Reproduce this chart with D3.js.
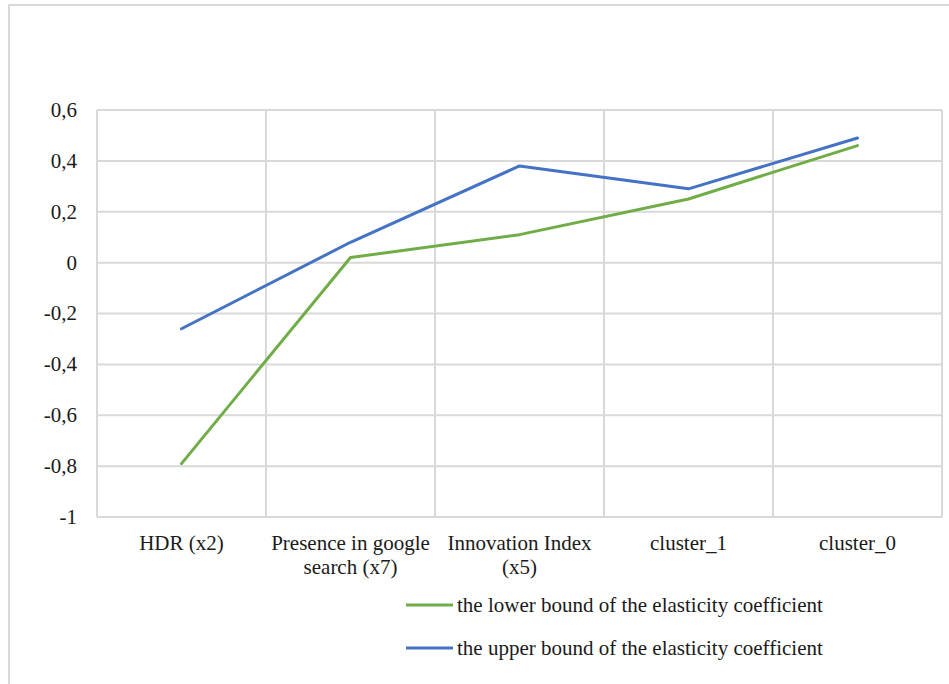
<!DOCTYPE html>
<html><head><meta charset="utf-8">
<script src="https://cdn.jsdelivr.net/npm/d3@7"></script>
<style>html,body{margin:0;padding:0;background:#fff;} svg{display:block;}</style>
</head><body>
<svg id="chart" width="949" height="684"></svg>
<script>
const categories = [["HDR (x2)"], ["Presence in google", "search (x7)"], ["Innovation Index", "(x5)"], ["cluster_1"], ["cluster_0"]];
const lowerBound = [-0.79, 0.02, 0.11, 0.25, 0.46];
const upperBound = [-0.26, 0.08, 0.38, 0.29, 0.49];
const yTicks = [-1, -0.8, -0.6, -0.4, -0.2, 0, 0.2, 0.4, 0.6];
const seriesNames = ["the lower bound of the elasticity coefficient", "the upper bound of the elasticity coefficient"];
const colors = ["#70ad47", "#4472c4"];

(function() {
const svg = d3.select("#chart");
const grid = "#d9d9d9";
const ff = '"Liberation Serif", "Times New Roman", serif';
const fs = "21px";
const tc = "#1a1a1a";

// outer frame
svg.append("rect").attr("x", 9).attr("y", 5).attr("width", 960).attr("height", 700)
  .attr("fill", "none").attr("stroke", grid).attr("stroke-width", 2);

const pL = 97, pR = 942, pT = 110, pB = 517;
const ids = categories.map((d, i) => i);
const x = d3.scaleBand().domain(ids).range([pL, pR]);
const y = d3.scaleLinear().domain([-1, 0.6]).range([pB, pT]);

// horizontal gridlines
svg.append("g").selectAll("line").data(yTicks).join("line")
  .attr("x1", pL).attr("x2", pR)
  .attr("y1", d => y(d)).attr("y2", d => y(d))
  .attr("stroke", grid).attr("stroke-width", 2);

// vertical gridlines at band boundaries
const bounds = ids.map(i => x(i)).concat([x(ids[ids.length - 1]) + x.bandwidth()]);
svg.append("g").selectAll("line").data(bounds).join("line")
  .attr("x1", d => d).attr("x2", d => d)
  .attr("y1", pT).attr("y2", pB)
  .attr("stroke", grid).attr("stroke-width", 2);

// y axis labels
const fmt = d => (Math.abs(d) < 1e-9 ? "0" : String(+d.toFixed(1)).replace(".", ","));
svg.append("g").selectAll("text").data(yTicks).join("text")
  .attr("x", 77).attr("y", d => y(d)).attr("dy", "0.33em")
  .attr("text-anchor", "end")
  .style("font-family", ff).style("font-size", fs).attr("fill", tc)
  .text(d => fmt(d));

// x labels
const xl = svg.append("g").selectAll("text").data(categories).join("text")
  .attr("x", (d, i) => x(i) + x.bandwidth() / 2)
  .attr("y", 550)
  .attr("text-anchor", "middle")
  .style("font-family", ff).style("font-size", fs).attr("fill", tc);
xl.each(function(d, i) {
  const cx = x(i) + x.bandwidth() / 2;
  d3.select(this).selectAll("tspan").data(d).join("tspan")
    .attr("x", cx)
    .attr("dy", (t, j) => j === 0 ? 0 : 24)
    .text(t => t);
});

// lines
const line = d3.line().x((d, i) => x(i) + x.bandwidth() / 2).y(d => y(d));
[lowerBound, upperBound].forEach((s, k) => {
  svg.append("path").datum(s).attr("d", line)
    .attr("fill", "none").attr("stroke", colors[k]).attr("stroke-width", 3)
    .attr("stroke-linecap", "round").attr("stroke-linejoin", "round");
});

// legend
const lg = svg.append("g").selectAll("g").data(seriesNames).join("g")
  .attr("transform", (d, i) => `translate(406,${605 + i * 43})`);
lg.append("line").attr("x1", 0).attr("x2", 47).attr("y1", 0).attr("y2", 0)
  .attr("stroke", (d, i) => colors[i]).attr("stroke-width", 3);
lg.append("text").attr("x", 51).attr("y", 0).attr("dy", "0.33em")
  .style("font-family", ff).style("font-size", fs).attr("fill", tc)
  .text(d => d);
})();
</script>
</body></html>
